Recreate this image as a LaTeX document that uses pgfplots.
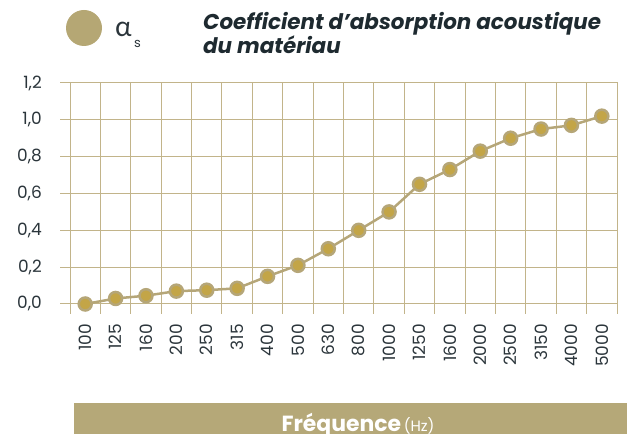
\documentclass[border=0pt]{standalone}
\usepackage{pgfplots}
\pgfplotsset{compat=1.18}
\usepackage{fontspec}
\setmainfont{Poppins}
\newfontfamily\greekfont{Lato}
\definecolor{gridc}{HTML}{C2B48A}
\definecolor{linec}{HTML}{B5A678}
\definecolor{markc}{HTML}{C3A547}
\definecolor{bandc}{HTML}{B5A878}
\definecolor{legc}{HTML}{B5A774}
\definecolor{textc}{HTML}{2B353B}
\definecolor{titlec}{HTML}{1E2A30}
\begin{document}
\begin{tikzpicture}[x=1bp,y=1bp]
\useasboundingbox (0,0) rectangle (627,434);
\begin{axis}[
  at={(70bp,130bp)}, anchor=south west,
  scale only axis, width=547bp, height=221bp,
  xmin=-0.5, xmax=17.5, ymin=0, ymax=1.2,
  clip=false,
  xtick={-0.5,0.5,1.5,2.5,3.5,4.5,5.5,6.5,7.5,8.5,9.5,10.5,11.5,12.5,13.5,14.5,15.5,16.5,17.5},
  xticklabels={},
  extra x ticks={0,1,2,3,4,5,6,7,8,9,10,11,12,13,14,15,16,17},
  extra x tick labels={100,125,160,200,250,315,400,500,630,800,1000,1250,1600,2000,2500,3150,4000,5000},
  extra x tick style={grid=none, tick style={draw=none}},
  ytick={0,0.2,0.4,0.6,0.8,1.0,1.2},
  grid=major,
  tick align=outside,
  major tick length=10bp,
  ytick pos=left, xtick pos=bottom,
  tick style={draw=gridc, line width=1bp},
  major grid style={draw=gridc, line width=1bp},
  axis line style={draw=gridc, line width=1bp},
  tick label style={font=\fontsize{17}{17}\selectfont, text=textc, inner sep=0pt},
  xticklabel style={rotate=90, anchor=east},
  xticklabel shift=10bp,
  yticklabel shift=18bp,
  /pgf/number format/assume math mode=true,
  yticklabel style={/pgf/number format/.cd, fixed, fixed zerofill, precision=1, use comma},
]
\pgfplotsinvokeforeach{0,0.2,0.4,0.6,0.8,1.0,1.2}{
  \draw[gridc, line width=1bp] (axis cs:-0.5,#1) -- ++(-17bp,0);
}
\addplot[linec, line width=2.5bp, mark=*, mark size=6.5bp, mark options={fill=markc, draw=none}] coordinates {
(0,0.0) (1,0.03) (2,0.045) (3,0.07) (4,0.075) (5,0.085) (6,0.15) (7,0.21) (8,0.30)
(9,0.40) (10,0.50) (11,0.65) (12,0.73) (13,0.83) (14,0.90) (15,0.95) (16,0.97) (17,1.02)};
\end{axis}
\fill[legc] (84,406) circle (18);
\node[anchor=base west, inner sep=0pt, text=textc] at (115,397) {\greekfont\fontsize{28}{28}\selectfont α};
\node[anchor=base west, inner sep=0pt, text=textc] at (134,386) {\fontsize{13}{13}\selectfont s};
\node[anchor=base west, inner sep=0pt, align=left, text=titlec, font=\bfseries\itshape\fontsize{21.5}{25}\selectfont] at (203,380) {Coefficient d’absorption acoustique\\du matériau};
\fill[bandc] (74,0) rectangle (627,31);
\node[anchor=base, inner sep=0pt, text=white] at (358,2.3) {{\bfseries\fontsize{22}{22}\selectfont Fréquence} {\fontsize{15}{15}\selectfont (Hz)}};
\end{tikzpicture}
\end{document}
